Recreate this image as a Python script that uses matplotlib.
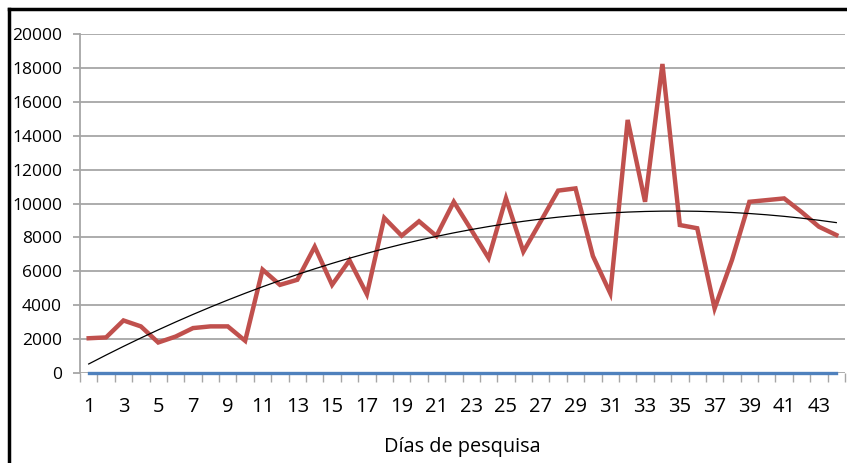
import numpy as np
import matplotlib
matplotlib.use("Agg")
import matplotlib.pyplot as plt
from matplotlib.lines import Line2D

# dias de pesquisa 1..44
dias = list(range(1, 45))
capturas = [2050, 2100, 3100, 2750, 1800, 2150, 2650, 2750, 2750, 1900,
            6100, 5200, 5500, 7450, 5200, 6650, 4650, 9150, 8100, 8950,
            8080, 10100, 8450, 6780, 10310, 7160, 8950, 10760, 10890, 6900,
            4700, 14930, 10100, 18230, 8730, 8540, 3810, 6670, 10100, 10200,
            10300, 9500, 8630, 8140]
base = [0] * 44
yticks = [0, 2000, 4000, 6000, 8000, 10000, 12000, 14000, 16000, 18000, 20000]

plt.rcParams['font.family'] = ['Open Sans', 'DejaVu Sans']

fig = plt.figure(figsize=(8.47, 4.63), dpi=100)
ax = fig.add_axes([80/847, (463-373)/463, (845-80)/847, (373-34)/463])

x = np.array(dias)
# polynomial (order 2) trendline like excel
coef = np.polyfit(x, capturas, 2)
ax.plot(x, np.polyval(coef, x), color='black', lw=0.9, zorder=4)
ax.plot(x, capturas, color='#C0504D', lw=3.2, zorder=3, solid_joinstyle='miter')
ax.plot(x, base, color='#4F81BD', lw=2.4, zorder=3, clip_on=False)

ax.set_xlim(0.5, 44.5)
ax.set_ylim(0, 20000)
ax.set_yticks(yticks)
ax.set_yticklabels([str(v) for v in yticks], fontsize=12.5)
ax.yaxis.grid(True, color='#a6a6a6', lw=1.3)
ax.set_axisbelow(True)

ax.set_xticks(dias[::2])
ax.set_xticklabels([str(d) for d in dias[::2]], fontsize=14.5)
ax.set_xticks(np.arange(0.5, 45, 1), minor=True)
ax.tick_params(axis='x', which='major', length=0, pad=17.5)
ax.tick_params(axis='x', which='minor', length=6.5, color='#a6a6a6', width=1)
ax.tick_params(axis='y', length=5, color='#a6a6a6', width=1.3, pad=8)

for s in ['top', 'right']:
    ax.spines[s].set_visible(False)
ax.spines['bottom'].set_visible(False)
ax.spines['left'].set_color('#a6a6a6')
ax.spines['left'].set_linewidth(1.3)

ax.set_xlabel('Días de pesquisa', fontsize=14.3, labelpad=14)

# frame of the cropped screenshot
fig.add_artist(Line2D([9/847, 9/847], [0, 1 - 9/463], color='black', lw=2.5))
fig.add_artist(Line2D([9/847, 1], [1 - 9/463, 1 - 9/463], color='black', lw=2.5))

fig.savefig('out.png', dpi=100)
